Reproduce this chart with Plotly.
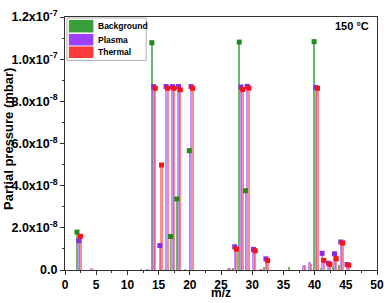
import plotly.graph_objects as go

# ---------------- data ----------------
bg_mz = [2, 14, 17, 18, 20, 28, 29, 40]
bg_val = [1.80e-8, 1.078e-7, 1.59e-8, 3.37e-8, 5.66e-8, 1.081e-7, 3.76e-8, 1.083e-7]
bg_minor_mz = [16, 27, 32, 36, 41, 43, 44]
bg_minor_val = [0.6e-9, 1.0e-9, 1.2e-9, 1.4e-9, 0.8e-9, 1.3e-9, 2.2e-9]

pl_mz = [2, 14, 15, 16, 17, 18, 20, 27, 28, 29, 30, 32, 40, 41, 42, 43, 44, 45]
pl_val = [1.39e-8, 8.70e-8, 1.16e-8, 8.70e-8, 8.70e-8, 8.70e-8, 8.70e-8, 1.10e-8, 8.68e-8,
          8.71e-8, 9.8e-9, 5.3e-9, 8.66e-8, 7.9e-9, 3.2e-9, 7.7e-9, 1.33e-8, 2.6e-9]
pl_minor_mz = [4, 12, 13, 19, 26, 31, 38, 39]
pl_minor_val = [0.9e-9, 0.3e-9, 0.5e-9, 0.4e-9, 1.0e-9, 0.7e-9, 2.4e-9, 3.6e-9]

th_mz = [2, 14, 15, 16, 17, 18, 20, 27, 28, 29, 30, 32, 40, 41, 42, 43, 44, 45]
th_val = [1.60e-8, 8.62e-8, 4.98e-8, 8.62e-8, 8.62e-8, 8.55e-8, 8.62e-8, 9.9e-9, 8.56e-8,
          8.63e-8, 9.1e-9, 4.5e-9, 8.62e-8, 4.6e-9, 2.7e-9, 5.4e-9, 1.28e-8, 2.3e-9]
th_minor_mz = [4, 26, 31, 38, 39]
th_minor_val = [0.6e-9, 0.8e-9, 0.5e-9, 2.5e-9, 2.9e-9]

series_names = ["Background", "Plasma", "Thermal"]
x_ticks = [0, 5, 10, 15, 20, 25, 30, 35, 40, 45, 50]
y_ticks = [0, 2e-8, 4e-8, 6e-8, 8e-8, 1.0e-7, 1.2e-7]
y_ticktext = ["0.0", "2.0x10<sup>-8</sup>", "4.0x10<sup>-8</sup>", "6.0x10<sup>-8</sup>",
              "8.0x10<sup>-8</sup>", "1.0x10<sup>-7</sup>", "1.2x10<sup>-7</sup>"]
label_text = "150 °C"

# ---------------- style ----------------
FONT = "Liberation Sans, Arial, sans-serif"
W, H = 392, 303
L, R, T, B = 65, 384, 8, 270  # plot area in px

styles = [
    # (bar color, marker color, center offset, bar width)
    ("rgba(60,160,60,0.75)", "#1f8a1f", -0.08, 0.25),
    ("rgba(160,90,255,0.65)", "#8a2be2", 0.20, 0.38),
    ("rgba(255,70,70,0.62)", "#ff1010", 0.47, 0.38),
]
legend_colors = ["#3a9e3a", "#9b40ff", "#ff3a3a"]

data = [
    (bg_mz, bg_val, bg_minor_mz, bg_minor_val),
    (pl_mz, pl_val, pl_minor_mz, pl_minor_val),
    (th_mz, th_val, th_minor_mz, th_minor_val),
]

fig = go.Figure()
for (mz, val, mmz, mval), (bc, mc, off, w) in zip(data, styles):
    fig.add_trace(go.Bar(x=mz + mmz, y=val + mval, offset=off - w / 2, width=w,
                         marker=dict(color=bc, line=dict(width=0)), showlegend=False))
for (mz, val, mmz, mval), (bc, mc, off, w) in zip(data, styles):
    fig.add_trace(go.Scatter(x=[m + off for m in mz], y=val, mode="markers",
                             marker=dict(symbol="square", size=5, color=mc,
                                         line=dict(width=0)),
                             showlegend=False))

def px_x(p):
    return (p - L) / (R - L)

def px_y(p):
    return 1 - (p - T) / (B - T)

shapes = []
annotations = []
# legend box
shapes.append(dict(type="rect", xref="paper", yref="paper",
                   x0=px_x(67), x1=px_x(148), y0=px_y(53), y1=px_y(9),
                   line=dict(color="#b0b0b0", width=1), fillcolor="white", layer="above"))
rows = [(11, 24), (25.5, 37.5), (38.5, 50.5)]
for name, col, (y0, y1) in zip(series_names, legend_colors, rows):
    shapes.append(dict(type="rect", xref="paper", yref="paper",
                       x0=px_x(69), x1=px_x(94), y0=px_y(y1), y1=px_y(y0),
                       line=dict(width=0), fillcolor=col, layer="above"))
    annotations.append(dict(xref="paper", yref="paper", x=px_x(97), y=px_y((y0 + y1) / 2),
                            text="<b>" + name + "</b>", showarrow=False,
                            xanchor="left", yanchor="middle",
                            font=dict(family=FONT, size=8.5, color="black")))

annotations.append(dict(xref="paper", yref="paper", x=px_x(378), y=px_y(17),
                        text="<b>" + label_text + "</b>", showarrow=False,
                        xanchor="right", yanchor="middle",
                        font=dict(family=FONT, size=11, color="black")))
# axis titles
annotations.append(dict(xref="paper", yref="paper", x=px_x(7), y=px_y(134),
                        text="<b>Partial pressure (mbar)</b>", showarrow=False, textangle=-90,
                        xanchor="center", yanchor="middle",
                        font=dict(family=FONT, size=13, color="black")))
annotations.append(dict(xref="paper", yref="paper", x=0.5, y=px_y(303), yanchor="bottom",
                        text="<b>m/z</b>", showarrow=False, xanchor="center",
                        font=dict(family=FONT, size=12, color="black")))

fig.update_layout(
    width=W, height=H,
    margin=dict(l=L, r=W - R, t=T, b=H - B, pad=0),
    paper_bgcolor="white", plot_bgcolor="white",
    barmode="overlay", bargap=0,
    shapes=shapes, annotations=annotations,
    font=dict(family=FONT, color="black"),
)
fig.update_xaxes(range=[0, 50], tickvals=x_ticks, ticktext=["<b>%d</b>" % v for v in x_ticks],
                 ticks="outside", ticklen=4, tickwidth=1, tickcolor="#333",
                 showline=True, linecolor="#333", linewidth=1, mirror=True,
                 showgrid=False, zeroline=False,
                 minor=dict(dtick=2.5, tick0=0, ticks="outside", ticklen=2, tickcolor="#333", showgrid=False),
                 tickfont=dict(family=FONT, size=12, color="black"))
fig.update_yaxes(range=[0, 1.2e-7], tickvals=y_ticks, ticktext=["<b>%s</b>" % t for t in y_ticktext],
                 ticks="outside", ticklen=4, tickwidth=1, tickcolor="#333",
                 showline=True, linecolor="#333", linewidth=1, mirror=True,
                 showgrid=False, zeroline=False,
                 minor=dict(dtick=1e-8, tick0=0, ticks="outside", ticklen=2, tickcolor="#333", showgrid=False),
                 tickfont=dict(family=FONT, size=12.5, color="black"))

fig.write_html("out.html", config={"displayModeBar": False},
               post_script="document.body.style.margin='0';document.body.style.padding='0';")
